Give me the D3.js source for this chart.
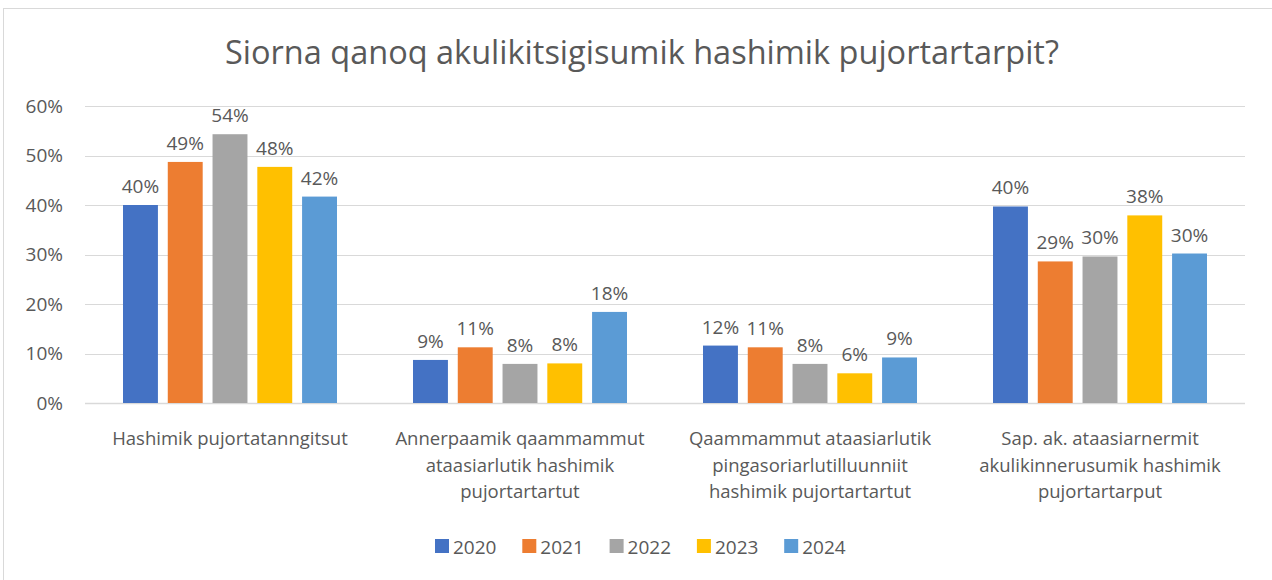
<!DOCTYPE html>
<html>
<head>
<meta charset="utf-8">
<script src="https://cdn.jsdelivr.net/npm/d3@7"></script>
<style>
  body { margin: 0; background: #fff; }
  text { font-family: "Open Sans", "Noto Sans", sans-serif; fill: #595959; }
</style>
</head>
<body>
<div id="chart"></div>
<script>
// data
const categories = [
    ["Hashimik pujortatanngitsut"],
    ["Annerpaamik qaammammut", "ataasiarlutik hashimik", "pujortartartut"],
    ["Qaammammut ataasiarlutik", "pingasoriarlutilluunniit", "hashimik pujortartartut"],
    ["Sap. ak. ataasiarnermit", "akulikinnerusumik hashimik", "pujortartarput"]
]
const years = ["2020", "2021", "2022", "2023", "2024"]
const v2020 = [40.0, 8.7, 11.6, 39.7]
const v2021 = [48.7, 11.25, 11.25, 28.6]
const v2022 = [54.3, 7.9, 7.9, 29.6]
const v2023 = [47.7, 8.0, 6.0, 37.9]
const v2024 = [41.7, 18.4, 9.2, 30.2]
const yTicks = [0, 10, 20, 30, 40, 50, 60]

const colors = ["#4472C4", "#ED7D31", "#A5A5A5", "#FFC000", "#5B9BD5"]
const series = [v2020, v2021, v2022, v2023, v2024]

const width = 1272
const height = 580
const margin = { top: 106, right: 27, bottom: 177, left: 85 }

const svg = d3.select("#chart").append("svg")
    .attr("width", width)
    .attr("height", height)

// chart frame
svg.append("rect")
    .attr("x", 3.5).attr("y", 8.5)
    .attr("width", width + 10).attr("height", height + 10)
    .attr("fill", "none")
    .attr("stroke", "#d9d9d9")

svg.append("text")
    .attr("x", 642).attr("y", 64)
    .attr("text-anchor", "middle")
    .attr("font-size", "32.5px")
    .text("Siorna qanoq akulikitsigisumik hashimik pujortartarpit?")

const x0 = d3.scaleBand()
    .domain(d3.range(categories.length))
    .range([margin.left, width - margin.right])
    .padding(0)

const x1 = d3.scaleBand()
    .domain(years)
    .range([38, x0.bandwidth() - 38])
    .paddingInner(0.22)

const y = d3.scaleLinear()
    .domain([0, 60])
    .range([height - margin.bottom, margin.top])

// gridlines
svg.append("g")
    .selectAll("line")
    .data(yTicks)
    .enter()
    .append("line")
    .attr("x1", margin.left)
    .attr("x2", width - margin.right)
    .attr("y1", d => Math.round(y(d)) + 0.5)
    .attr("y2", d => Math.round(y(d)) + 0.5)
    .attr("stroke", "#d9d9d9")
    .attr("stroke-width", d => d == 0 ? 1.5 : 1.2)

const yAxis = d3.axisLeft(y)
    .tickValues(yTicks)
    .tickFormat(d => d + "%")
    .tickSize(0)
    .tickPadding(22)

svg.append("g")
    .attr("transform", `translate(${margin.left},0)`)
    .call(yAxis)
    .call(g => g.select(".domain").remove())
    .selectAll("text")
    .attr("font-size", "19px")
    .style("fill", "#595959")
    .style("font-family", "'Open Sans', sans-serif")

// bars
const groups = svg.append("g")
    .selectAll("g")
    .data(categories.map((c, i) => i))
    .enter()
    .append("g")
    .attr("transform", i => `translate(${x0(i)},0)`)

groups.selectAll("rect")
    .data(i => years.map((yr, s) => ({ yr: yr, s: s, v: series[s][i] })))
    .enter()
    .append("rect")
    .attr("x", d => x1(d.yr))
    .attr("width", x1.bandwidth())
    .attr("y", d => y(d.v))
    .attr("height", d => y(0) - y(d.v))
    .attr("fill", d => colors[d.s])

groups.selectAll(".label")
    .data(i => years.map((yr, s) => ({ yr: yr, s: s, v: series[s][i] })))
    .enter()
    .append("text")
    .attr("class", "label")
    .attr("x", d => x1(d.yr) + x1.bandwidth() / 2)
    .attr("y", d => y(d.v) - 12)
    .attr("text-anchor", "middle")
    .attr("font-size", "19px")
    .text(d => Math.round(d.v) + "%")

// category labels
groups.selectAll(".cat")
    .data(i => categories[i])
    .enter()
    .append("text")
    .attr("class", "cat")
    .attr("x", x0.bandwidth() / 2)
    .attr("y", (d, k) => 445 + k * 26.5)
    .attr("text-anchor", "middle")
    .attr("font-size", "18.5px")
    .text(d => d)

// legend
const legend = svg.append("g")
    .attr("transform", "translate(435,539)")

const item = legend.selectAll("g")
    .data(years)
    .enter()
    .append("g")
    .attr("transform", (d, i) => `translate(${i * 87.3},0)`)

item.append("rect")
    .attr("width", 14).attr("height", 14)
    .attr("fill", (d, i) => colors[i])

item.append("text")
    .attr("x", 18).attr("y", 14.5)
    .attr("font-size", "19px")
    .text(d => d)
</script>
</body>
</html>
